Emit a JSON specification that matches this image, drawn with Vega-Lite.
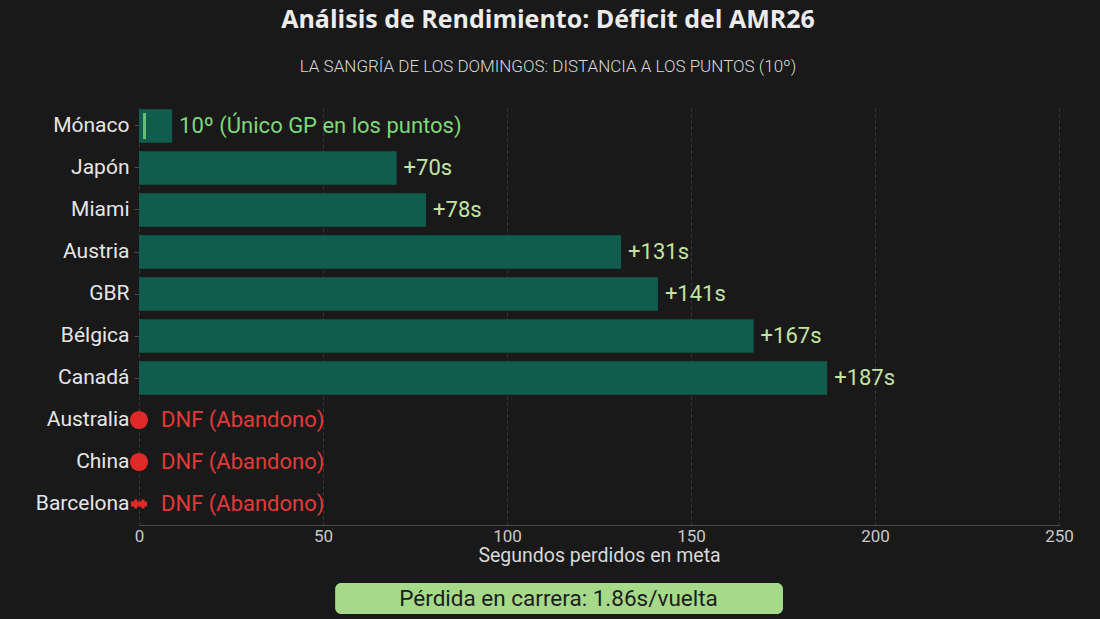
{
  "$schema": "https://vega.github.io/schema/vega-lite/v6.json",
  "autosize": {"type": "none"},
  "width": 920,
  "height": 420,
  "padding": {"left": 139, "top": 105, "right": 41, "bottom": 94},
  "background": "#191919",
  "title": {
    "text": "Análisis de Rendimiento: Déficit del AMR26",
    "subtitle": "LA SANGRÍA DE LOS DOMINGOS: DISTANCIA A LOS PUNTOS (10º)",
    "anchor": "middle",
    "dx": -51,
    "offset": 30,
    "font": "Open Sans",
    "fontSize": 25,
    "fontWeight": "bold",
    "color": "#ececec",
    "subtitleFont": "Roboto",
    "subtitleFontSize": 17,
    "subtitleFontWeight": 300,
    "subtitleColor": "#d8d8d8",
    "subtitlePadding": 26
  },
  "datasets": {
    "races": [
      {"race": "Mónaco", "seconds": 9, "label": "10º (Único GP en los puntos)", "status": "points"},
      {"race": "Japón", "seconds": 70, "label": "+70s", "status": "finish"},
      {"race": "Miami", "seconds": 78, "label": "+78s", "status": "finish"},
      {"race": "Austria", "seconds": 131, "label": "+131s", "status": "finish"},
      {"race": "GBR", "seconds": 141, "label": "+141s", "status": "finish"},
      {"race": "Bélgica", "seconds": 167, "label": "+167s", "status": "finish"},
      {"race": "Canadá", "seconds": 187, "label": "+187s", "status": "finish"},
      {"race": "Australia", "seconds": 0, "label": "DNF (Abandono)", "status": "DNF"},
      {"race": "China", "seconds": 0, "label": "DNF (Abandono)", "status": "DNF"},
      {"race": "Barcelona", "seconds": 0, "label": "DNF (Abandono)", "status": "DNF"}
    ],
    "note": [
      {"x": 53.3, "x2": 175, "xm": 114, "y": -0.138, "y2": -0.212, "ym": -0.175, "text": "Pérdida en carrera: 1.86s/vuelta"}
    ]
  },
  "layer": [
    {
      "data": {"name": "races"},
      "encoding": {
        "y": {
          "field": "race",
          "type": "nominal",
          "title": null,
          "sort": ["Mónaco", "Japón", "Miami", "Austria", "GBR", "Bélgica", "Canadá", "Australia", "China", "Barcelona"],
          "scale": {"paddingInner": 0.2, "paddingOuter": 0.1},
          "axis": {
            "labelFont": "Roboto",
            "labelFontSize": 21,
            "labelColor": "#e6e6e6",
            "labelPadding": 5,
            "tickSize": 5,
            "tickColor": "#4a4a4a",
            "domain": false
          }
        }
      },
      "layer": [
        {
          "transform": [{"filter": "datum.status != 'DNF'"}],
          "mark": {"type": "bar", "color": "#105c4d"},
          "encoding": {
            "x": {
              "field": "seconds",
              "type": "quantitative",
              "title": "Segundos perdidos en meta",
              "scale": {"domain": [0, 250], "nice": false},
              "axis": {
                "values": [0, 50, 100, 150, 200, 250],
                "grid": true,
                "gridDash": [3, 3],
                "gridColor": "#3c3c3c",
                "domainColor": "#4a4a4a",
                "ticks": false,
                "labelFlush": false,
                "labelPadding": 3,
                "labelFont": "Roboto",
                "labelFontSize": 17,
                "labelColor": "#c8c8c8",
                "titleFont": "Roboto",
                "titleFontSize": 19.5,
                "titleFontWeight": "normal",
                "titleColor": "#d8d8d8",
                "titlePadding": 2
              }
            }
          }
        },
        {
          "transform": [{"filter": "datum.status != 'DNF'"}],
          "mark": {"type": "text", "align": "left", "baseline": "middle", "dx": 7, "font": "Roboto", "fontSize": 22},
          "encoding": {
            "x": {"field": "seconds", "type": "quantitative"},
            "text": {"field": "label"},
            "color": {
              "condition": {"test": "datum.status == 'points'", "value": "#7dd87a"},
              "value": "#c3e3a3"
            }
          }
        },
        {
          "transform": [{"filter": "datum.race == 'Mónaco'"}],
          "mark": {"type": "tick", "color": "#8ee68a", "thickness": 3, "size": 26},
          "encoding": {
            "x": {"datum": 1.5, "type": "quantitative"}
          }
        },
        {
          "transform": [{"filter": "datum.status == 'DNF'"}],
          "mark": {"type": "point", "filled": true, "opacity": 1, "color": "#e02a2a"},
          "encoding": {
            "x": {"field": "seconds", "type": "quantitative"},
            "shape": {
              "condition": {"test": "datum.race == 'Barcelona'", "value": "M-1,-0.3 L-0.6,-0.3 L-0.6,-0.55 L-0.2,-0.55 L-0.2,-0.3 L0.3,-0.3 L0.3,-0.55 L0.7,-0.55 L0.7,-0.3 L1,-0.3 L1,0.3 L0.7,0.3 L0.7,0.55 L0.3,0.55 L0.3,0.3 L-0.2,0.3 L-0.2,0.55 L-0.6,0.55 L-0.6,0.3 L-1,0.3 Z"},
              "value": "circle"
            },
            "size": {
              "condition": {"test": "datum.race == 'Barcelona'", "value": 260},
              "value": 330
            }
          }
        },
        {
          "transform": [{"filter": "datum.status == 'DNF'"}],
          "mark": {"type": "text", "align": "left", "baseline": "middle", "dx": 22, "font": "Roboto", "fontSize": 22, "color": "#e33a3a"},
          "encoding": {
            "x": {"field": "seconds", "type": "quantitative"},
            "text": {"field": "label"}
          }
        }
      ]
    },
    {
      "data": {"name": "note"},
      "encoding": {
        "y": {"field": "ym", "type": "quantitative", "scale": {"domain": [0, 1], "nice": false, "zero": false}, "axis": null}
      },
      "layer": [
        {
          "mark": {"type": "rect", "color": "#a6d98a", "cornerRadius": 6, "clip": false},
          "encoding": {
            "x": {"field": "x", "type": "quantitative"},
            "x2": {"field": "x2"},
            "y": {"field": "y", "type": "quantitative", "scale": {"domain": [0, 1], "nice": false, "zero": false}, "axis": null},
            "y2": {"field": "y2"}
          }
        },
        {
          "mark": {"type": "text", "align": "center", "baseline": "middle", "font": "Roboto", "fontSize": 22.5, "color": "#1d1d1d"},
          "encoding": {
            "x": {"field": "xm", "type": "quantitative"},
            "text": {"field": "text"}
          }
        }
      ]
    }
  ],
  "resolve": {"scale": {"y": "independent"}, "axis": {"y": "independent"}},
  "config": {
    "view": {"stroke": null}
  }
}
